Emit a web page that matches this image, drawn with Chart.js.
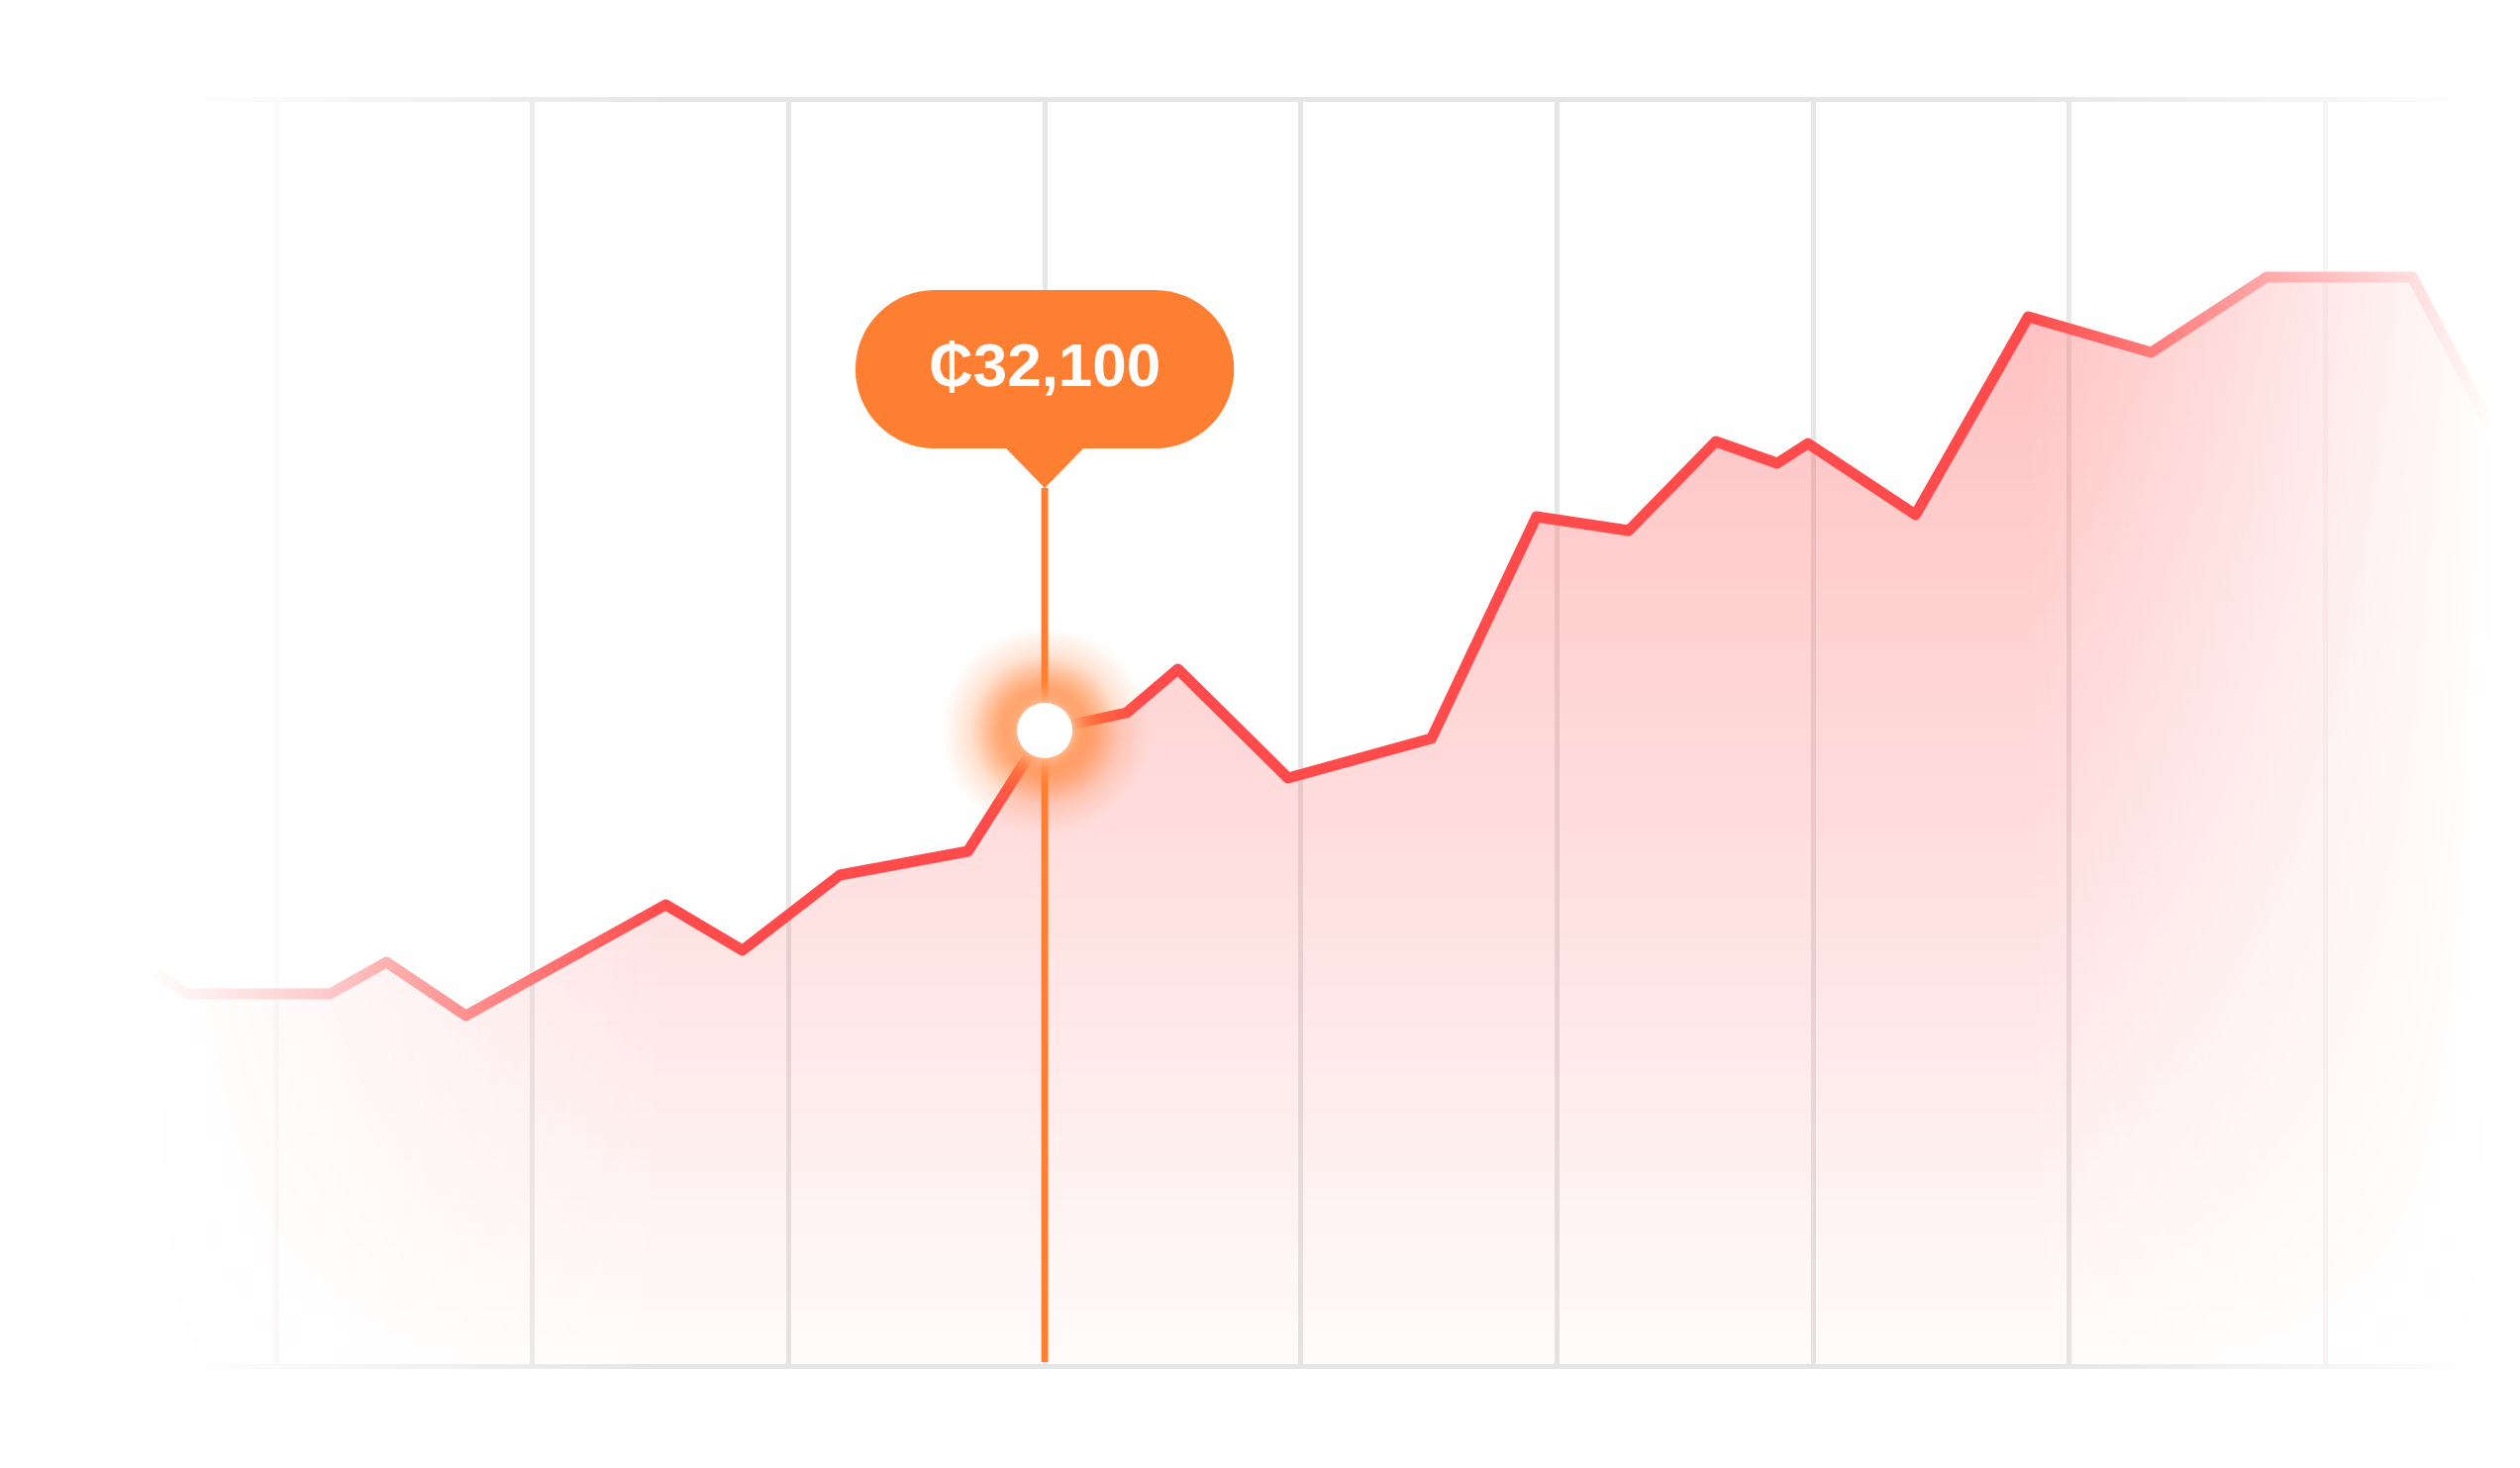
<!DOCTYPE html>
<html>
<head>
<meta charset="utf-8">
<title>Price chart</title>
<script src="https://cdn.jsdelivr.net/npm/chart.js@4.4.1/dist/chart.umd.min.js"></script>
<style>
  html, body { margin: 0; padding: 0; background: #fff; }
  #wrap { width: 2545px; height: 1483px; }
</style>
</head>
<body>
<div id="wrap"><canvas id="priceChart"></canvas></div>
<script>
// days since start, and the price on that day
const days = [3.0, 6.5, 12.1, 14.3, 17.4, 25.2, 28.2, 32.0, 37.0, 40.0, 43.2, 45.2, 49.5,
              55.1, 59.2, 62.8, 66.2, 68.6, 69.8, 74.0, 78.4, 83.2, 87.7, 93.4, 100.0];
const prices = [22000, 18800, 18800, 20400, 17700, 23300, 21000, 24800, 26000, 32100, 33000, 35200, 29700,
                31700, 42900, 42200, 46700, 45600, 46600, 43000, 53000, 51200, 55000, 55000, 38700];
const gridDays = [10, 20, 30, 40, 50, 60, 70, 80, 90];
const priceRange = [0, 64000];
const highlightIndex = 9;
const currency = '₵';

const lineRed = '#ff4b4b';
const accent = '#ff7f32';
const gridGrey = '#e6e6e6';

const points = days.map((d, i) => ({ x: d, y: prices[i] }));

// fade the whole plot out towards the left and right edges
const fadeEdges = {
    id: 'fadeEdges',
    afterDatasetsDraw(chart) {
        const { ctx, width, height } = chart;
        const g = ctx.createLinearGradient(0, 0, width, 0);
        g.addColorStop(0.059, 'rgba(0,0,0,0)');
        g.addColorStop(0.13, 'rgba(0,0,0,0.3)');
        g.addColorStop(0.185, 'rgba(0,0,0,0.62)');
        g.addColorStop(0.263, 'rgba(0,0,0,1)');
        g.addColorStop(0.806, 'rgba(0,0,0,1)');
        g.addColorStop(0.898, 'rgba(0,0,0,0.49)');
        g.addColorStop(0.957, 'rgba(0,0,0,0.19)');
        g.addColorStop(0.99, 'rgba(0,0,0,0)');
        ctx.save();
        ctx.globalCompositeOperation = 'destination-in';
        ctx.fillStyle = g;
        ctx.fillRect(0, 0, width, height);
        ctx.restore();
    }
};

// guide line under the tooltip + glow around the highlighted point
const markerGlow = {
    id: 'markerGlow',
    beforeDatasetDraw(chart, args) {
        if (args.index !== 1) return;
        const el = args.meta.data[0];
        const ctx = chart.ctx;
        const pad = chart.options.plugins.tooltip.caretPadding;
        ctx.save();
        ctx.strokeStyle = accent;
        ctx.lineWidth = 7;
        ctx.beginPath();
        ctx.moveTo(el.x, el.y - pad);
        ctx.lineTo(el.x, chart.chartArea.bottom - 4);
        ctx.stroke();

        const r = 105;
        const halo = ctx.createRadialGradient(el.x, el.y, 0, el.x, el.y, r);
        halo.addColorStop(0, 'rgba(255,127,50,1)');
        halo.addColorStop(0.3, 'rgba(255,127,50,0.95)');
        halo.addColorStop(0.5, 'rgba(255,127,50,0.6)');
        halo.addColorStop(0.72, 'rgba(255,127,50,0.22)');
        halo.addColorStop(1, 'rgba(255,127,50,0)');
        ctx.fillStyle = halo;
        ctx.beginPath();
        ctx.arc(el.x, el.y, r, 0, Math.PI * 2);
        ctx.fill();

        ctx.shadowColor = 'rgba(255,255,255,1)';
        ctx.shadowBlur = 26;
    },
    afterDatasetDraw(chart, args) {
        if (args.index === 1) chart.ctx.restore();
    },
    // pill shaped bubble with a caret, sized from the tooltip model
    beforeTooltipDraw(chart, args) {
        const tip = args.tooltip;
        const ctx = chart.ctx;
        const caret = tip.options.caretSize;
        const { x, y, width, height, caretX } = tip;
        ctx.save();
        ctx.fillStyle = accent;
        ctx.beginPath();
        ctx.roundRect(x, y, width, height, height / 2);
        ctx.fill();
        ctx.beginPath();
        ctx.moveTo(caretX - caret, y + height - 1);
        ctx.lineTo(caretX, y + height + caret);
        ctx.lineTo(caretX + caret, y + height - 1);
        ctx.closePath();
        ctx.fill();
        ctx.restore();
    }
};

const ctx = document.getElementById('priceChart').getContext('2d');
const chart = new Chart(ctx, {
    type: 'line',
    data: {
        datasets: [{
            data: points,
            borderColor: lineRed,
            borderWidth: 11,
            borderJoinStyle: 'round',
            borderCapStyle: 'round',
            pointRadius: 0,
            pointHoverRadius: 0,
            tension: 0,
            fill: 'start',
            backgroundColor: c => {
                const area = c.chart.chartArea;
                if (!area) return 'rgba(255,77,77,0.2)';
                const g = c.chart.ctx.createLinearGradient(0, area.top, 0, area.bottom);
                g.addColorStop(0, 'rgba(255,77,77,0.42)');
                g.addColorStop(1, 'rgba(255,77,77,0.02)');
                return g;
            },
            order: 1
        }, {
            data: [points[highlightIndex]],
            showLine: false,
            pointRadius: 28,
            pointHoverRadius: 28,
            pointBackgroundColor: '#fff',
            pointBorderWidth: 0,
            pointHoverBorderWidth: 0,
            order: 0
        }]
    },
    options: {
        responsive: true,
        maintainAspectRatio: false,
        animation: false,
        events: [],
        layout: { autoPadding: false, padding: { top: 100, bottom: 103, left: 0, right: 0 } },
        scales: {
            x: {
                type: 'linear',
                min: -0.79,
                max: 97.6,
                afterBuildTicks: axis => { axis.ticks = gridDays.map(v => ({ value: v })); },
                ticks: { display: false },
                grid: { color: gridGrey, lineWidth: 5, drawTicks: false },
                border: { display: false }
            },
            y: {
                min: priceRange[0],
                max: priceRange[1],
                afterBuildTicks: axis => { axis.ticks = priceRange.map(v => ({ value: v })); },
                ticks: { display: false },
                grid: { color: gridGrey, lineWidth: 5, drawTicks: false },
                border: { display: false }
            }
        },
        plugins: {
            legend: { display: false },
            tooltip: {
                enabled: true,
                animation: false,
                backgroundColor: 'rgba(0,0,0,0)',
                bodyColor: '#fff',
                bodyAlign: 'center',
                bodyFont: { family: '"Liberation Sans", Arial, sans-serif', weight: 'bold', size: 62, lineHeight: 1 },
                padding: { top: 49, bottom: 49, left: 74, right: 74 },
                caretSize: 40,
                caretPadding: 245,
                xAlign: 'center',
                yAlign: 'bottom',
                displayColors: false,
                borderWidth: 0,
                callbacks: {
                    title: () => [],
                    label: c => currency + c.parsed.y.toLocaleString('en-US')
                }
            }
        }
    },
    plugins: [fadeEdges, markerGlow]
});

chart.tooltip.setActiveElements([{ datasetIndex: 1, index: 0 }], { x: 0, y: 0 });
chart.update();
</script>
</body>
</html>
